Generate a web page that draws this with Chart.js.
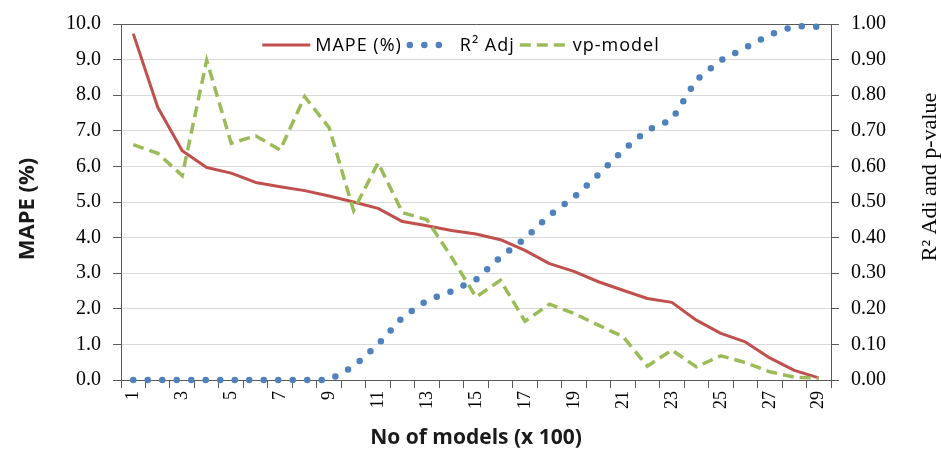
<!DOCTYPE html>
<html>
<head>
<meta charset="utf-8">
<script src="https://cdn.jsdelivr.net/npm/chart.js@4.4.1/dist/chart.umd.min.js"></script>
<style>
  html, body { margin: 0; padding: 0; background: #fff; }
</style>
</head>
<body>
<canvas id="chart" width="941" height="454"></canvas>
<script>
// number of models, in hundreds
const categories = ['1', '2', '3', '4', '5', '6', '7', '8', '9', '10', '11', '12', '13', '14', '15',
  '16', '17', '18', '19', '20', '21', '22', '23', '24', '25', '26', '27', '28', '29'];

// left axis (%)
const mapeValues = [9.73, 7.66, 6.44, 5.97, 5.81, 5.55, 5.43, 5.32, 5.17, 5.0, 4.82, 4.45, 4.33, 4.2, 4.1,
  3.94, 3.64, 3.27, 3.05, 2.76, 2.52, 2.29, 2.18, 1.68, 1.31, 1.07, 0.62, 0.27, 0.06];

// right axis (0..1)
const r2AdjValues = [0, 0, 0, 0, 0, 0, 0, 0, 0, 0.038, 0.1, 0.176, 0.224, 0.249, 0.282,
  0.345, 0.397, 0.463, 0.513, 0.577, 0.645, 0.702, 0.731, 0.843, 0.898, 0.933, 0.97, 0.994, 0.992];
const vpModelValues = [0.661, 0.637, 0.574, 0.898, 0.665, 0.686, 0.646, 0.796, 0.709, 0.476, 0.61, 0.47, 0.45, 0.345, 0.233,
  0.28, 0.165, 0.213, 0.187, 0.154, 0.122, 0.039, 0.084, 0.037, 0.068, 0.049, 0.023, 0.008, 0.005];

const axisGrey = '#595959';
const gridGrey = '#d9d9d9';

Chart.defaults.font.family = '"Liberation Serif", "Times New Roman", serif';
Chart.defaults.color = '#000';

// legend drawn inside the plot, near the top
const insideLegend = {
  id: 'insideLegend',
  afterDraw(chart) {
    const { ctx } = chart;
    const y = 45;
    const sampleLen = 48;
    ctx.save();
    ctx.font = '18px "Open Sans", sans-serif';
    ctx.letterSpacing = '1px';
    ctx.textBaseline = 'middle';
    const items = chart.data.datasets.map(ds => ({ ds, w: ctx.measureText(ds.label).width }));
    const total = items.reduce((s, it) => s + sampleLen + 5 + it.w, 0) + (items.length - 1) * 5;
    let x = 461 - total / 2;
    items.forEach(({ ds, w }) => {
      ctx.beginPath();
      ctx.strokeStyle = ds.borderColor;
      ctx.lineWidth = ds.borderWidth;
      ctx.lineCap = ds.borderCapStyle || 'butt';
      ctx.setLineDash(ds.borderDash || []);
      const inset = ds.borderCapStyle === 'round' ? 3 : 0;
      ctx.moveTo(x + inset, y);
      ctx.lineTo(x + sampleLen - inset, y);
      ctx.stroke();
      ctx.setLineDash([]);
      ctx.fillStyle = '#000';
      ctx.fillText(ds.label, x + sampleLen + 5, y + 1);
      x += sampleLen + 5 + w + 5;
    });
    ctx.restore();
  }
};

// rotated titles for both value axes
const sideTitles = {
  id: 'sideTitles',
  afterDraw(chart) {
    const { ctx } = chart;
    const drawVertical = (text, x, y, font, color) => {
      ctx.save();
      ctx.translate(x, y);
      ctx.rotate(-Math.PI / 2);
      ctx.font = font;
      ctx.fillStyle = color;
      ctx.textAlign = 'center';
      ctx.textBaseline = 'middle';
      ctx.fillText(text, 0, 0);
      ctx.restore();
    };
    drawVertical('MAPE (%)', 28, 209, 'bold 22px "Open Sans", sans-serif', '#1a1a1a');
    drawVertical('R² Adi and p-value', 930, 177, '22px "Liberation Serif", serif', '#000');
  }
};

new Chart(document.getElementById('chart'), {
  type: 'line',
  data: {
    labels: categories,
    datasets: [
      {
        label: 'MAPE (%)',
        data: mapeValues,
        yAxisID: 'y',
        borderColor: '#c0504d',
        borderWidth: 3,
        borderJoinStyle: 'round',
        pointRadius: 0,
        order: 3,
        clip: false
      },
      {
        label: 'R² Adj',
        data: r2AdjValues,
        yAxisID: 'y1',
        borderColor: '#4f81bd',
        borderWidth: 6.5,
        borderDash: [0, 14.5],
        borderCapStyle: 'round',
        pointRadius: 0,
        order: 2,
        clip: false
      },
      {
        label: 'vp-model',
        data: vpModelValues,
        yAxisID: 'y1',
        borderColor: '#9bbb59',
        borderWidth: 3.5,
        borderDash: [11, 6],
        pointRadius: 0,
        order: 1,
        clip: false
      }
    ]
  },
  options: {
    responsive: false,
    animation: false,
    layout: { padding: { top: 23, left: 0, right: 0, bottom: 0 } },
    plugins: {
      legend: { display: false },
      tooltip: { enabled: false }
    },
    scales: {
      x: {
        offset: true,
        grid: { offset: true, drawOnChartArea: false, tickLength: 8, tickColor: axisGrey },
        border: { color: axisGrey },
        ticks: {
          autoSkip: false,
          minRotation: 90,
          maxRotation: 90,
          padding: 3,
          font: { size: 18 },
          callback: (v, i) => (i % 2 === 0 ? categories[i] : '')
        },
        title: {
          display: true,
          text: 'No of models (x 100)',
          color: '#1a1a1a',
          font: { family: '"Open Sans", sans-serif', weight: 'bold', size: 21 },
          padding: { top: 0, bottom: 3 }
        },
        afterFit: s => { s.height = 74; }
      },
      y: {
        position: 'left',
        min: 0,
        max: 10,
        ticks: { stepSize: 1, padding: 12, font: { size: 20 }, callback: v => v.toFixed(1) },
        grid: {
          color: c => (c.tick && c.tick.value === 10 ? axisGrey : gridGrey),
          tickLength: 8,
          tickColor: axisGrey
        },
        border: { color: axisGrey },
        afterFit: s => { s.width = 121; }
      },
      y1: {
        position: 'right',
        min: 0,
        max: 1,
        ticks: { stepSize: 0.1, padding: 12, font: { size: 20 }, callback: v => v.toFixed(2) },
        grid: { drawOnChartArea: false, tickLength: 8, tickColor: axisGrey },
        border: { color: axisGrey },
        afterFit: s => { s.width = 110; }
      }
    }
  },
  plugins: [insideLegend, sideTitles]
});
</script>
</body>
</html>
